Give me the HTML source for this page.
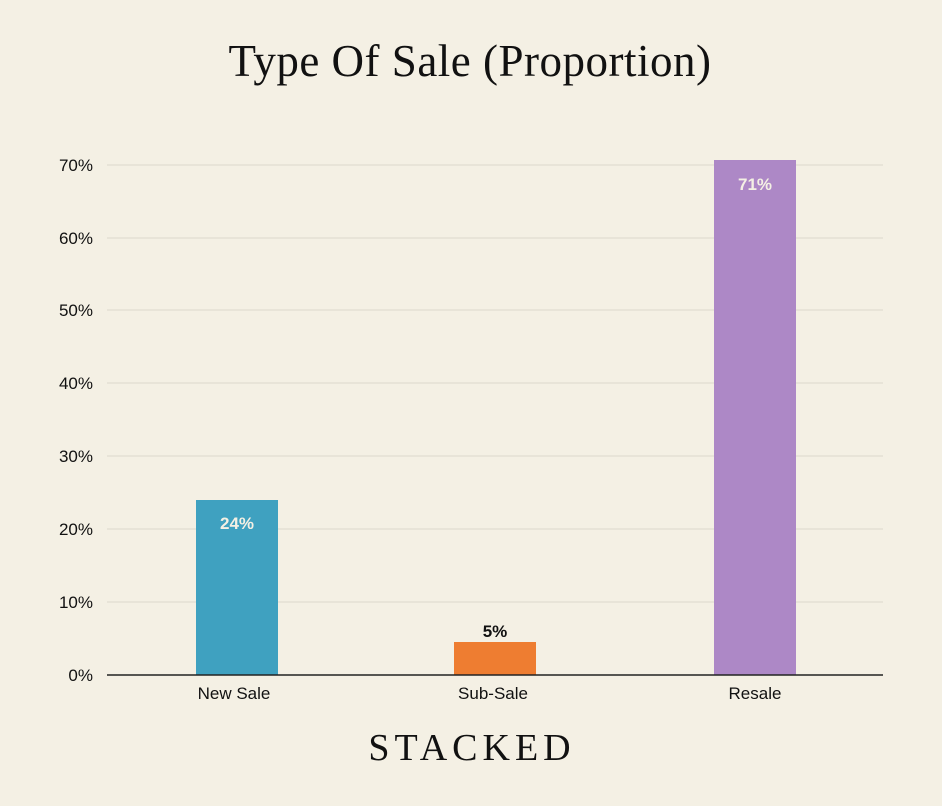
<!DOCTYPE html>
<html><head><meta charset="utf-8"><style>
html,body{margin:0;padding:0;background:#f4f0e4;}
svg{display:block}
</style></head><body>
<svg width="942" height="806" xmlns="http://www.w3.org/2000/svg">
<rect width="942" height="806" fill="#f4f0e4"/>
<text x="470" y="76" text-anchor="middle" font-family="Liberation Serif, serif" font-size="45" letter-spacing="0.5" fill="#111">Type Of Sale (Proportion)</text>
<g stroke="#dcd8cc" stroke-width="1">
<line x1="107" x2="883" y1="165" y2="165"/>
<line x1="107" x2="883" y1="238" y2="238"/>
<line x1="107" x2="883" y1="310" y2="310"/>
<line x1="107" x2="883" y1="383" y2="383"/>
<line x1="107" x2="883" y1="456" y2="456"/>
<line x1="107" x2="883" y1="529" y2="529"/>
<line x1="107" x2="883" y1="602" y2="602"/>
</g>
<g font-family="Liberation Sans, sans-serif" font-size="17" fill="#111" text-anchor="end">
<text x="93" y="171">70%</text>
<text x="93" y="244">60%</text>
<text x="93" y="316">50%</text>
<text x="93" y="389">40%</text>
<text x="93" y="462">30%</text>
<text x="93" y="535">20%</text>
<text x="93" y="608">10%</text>
<text x="93" y="681">0%</text>
</g>
<rect x="196" y="500" width="82" height="175" fill="#3fa1c0"/>
<rect x="454" y="642" width="82" height="33" fill="#ee7d31"/>
<rect x="714" y="160" width="82" height="515" fill="#ad88c6"/>
<line x1="107" x2="883" y1="675" y2="675" stroke="#222" stroke-width="1.5"/>
<g font-family="Liberation Sans, sans-serif" font-size="17" font-weight="bold" text-anchor="middle">
<text x="237" y="529" fill="#f4f0e4">24%</text>
<text x="495" y="637" fill="#111">5%</text>
<text x="755" y="190" fill="#f4f0e4">71%</text>
</g>
<g font-family="Liberation Sans, sans-serif" font-size="17" fill="#111" text-anchor="middle">
<text x="234" y="699">New Sale</text>
<text x="493" y="699">Sub-Sale</text>
<text x="755" y="699">Resale</text>
</g>
<text x="472" y="760" text-anchor="middle" font-family="Liberation Serif, serif" font-size="38" letter-spacing="5" fill="#111">STACKED</text>
</svg>
</body></html>
